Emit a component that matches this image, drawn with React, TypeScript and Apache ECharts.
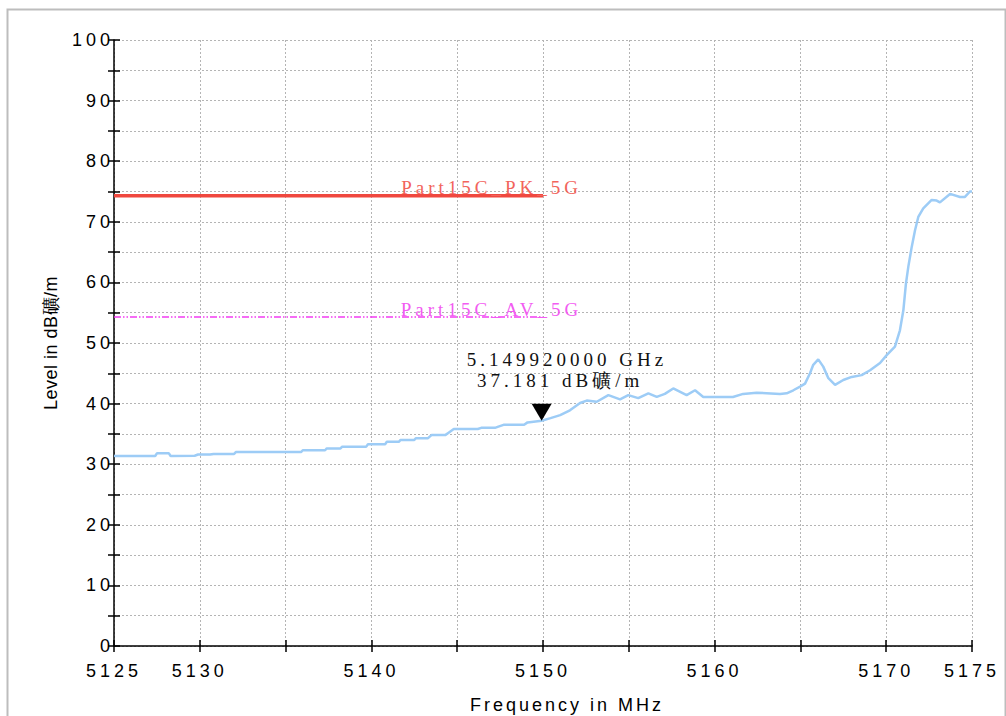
import React, { useEffect, useRef } from 'react';
import * as echarts from 'echarts';

const freqMHz = [
  5125, 5127.4, 5127.5, 5128.2, 5128.3, 5129.7, 5129.9, 5130.6, 5130.8, 5132.0,
  5132.1, 5135.9, 5136.0, 5137.3, 5137.4, 5138.2, 5138.3, 5139.7, 5139.8, 5140.8,
  5140.9, 5141.6, 5141.7, 5142.5, 5142.6, 5143.3, 5143.5, 5144.3, 5144.5, 5144.8,
  5146.2, 5146.4, 5147.2, 5147.4, 5147.7, 5148.9, 5149.1, 5149.92, 5150.44, 5151.0,
  5151.57, 5152.16, 5152.55, 5153.13, 5153.81, 5154.49, 5154.97, 5155.55, 5156.14, 5156.63,
  5157.1, 5157.59, 5158.37, 5158.86, 5159.34, 5160.0, 5161.07, 5161.66, 5162.45, 5163.81,
  5164.2, 5164.59, 5164.98, 5165.27, 5165.56, 5165.75, 5166.04, 5166.33, 5166.63, 5167.02,
  5167.5, 5167.99, 5168.57, 5169.06, 5169.64, 5170.03, 5170.51, 5170.8, 5171.0, 5171.15,
  5171.29, 5171.49, 5171.68, 5171.87, 5172.16, 5172.65, 5172.94, 5173.13, 5173.72, 5174.3,
  5174.59, 5174.88, 5175,
];

const levelDb = [
  31.35, 31.35, 31.8, 31.8, 31.35, 31.4, 31.6, 31.6, 31.7, 31.7,
  32.0, 32.0, 32.3, 32.3, 32.6, 32.6, 32.9, 32.9, 33.3, 33.3,
  33.7, 33.7, 34.0, 34.0, 34.3, 34.3, 34.8, 34.8, 35.2, 35.8,
  35.8, 36.0, 36.0, 36.2, 36.5, 36.5, 36.9, 37.18, 37.6, 38.1,
  38.9, 40.1, 40.5, 40.3, 41.4, 40.7, 41.4, 40.9, 41.7, 41.1,
  41.6, 42.5, 41.4, 42.2, 41.1, 41.1, 41.1, 41.6, 41.8, 41.6,
  41.7, 42.2, 42.8, 43.3, 45.0, 46.4, 47.3, 46.1, 44.2, 43.1,
  43.9, 44.4, 44.7, 45.5, 46.7, 48.0, 49.4, 52.1, 55.4, 59.8,
  62.6, 65.9, 68.6, 70.8, 72.2, 73.6, 73.5, 73.2, 74.6, 74.1,
  74.1, 75.0, 75.0,
];

const xTickLabels = [5125, 5130, 5140, 5150, 5160, 5170, 5175];
const limitFreq = [5125, 5150];
const pkLimit = 74.3;
const avLimit = 54.3;
const pkName = 'Part15C_PK_5G';
const avName = 'Part15C_AV_5G';
const markerFreq = 5149.92;
const markerLevel = 37.181;
const markerFreqText = '5.149920000 GHz';
const markerLevelText = '37.181 dB礦/m';

const SANS = 'Liberation Sans, Arial, sans-serif';
const SERIF = 'Liberation Serif, Times New Roman, serif';

export default function App() {
  const ref = useRef<HTMLDivElement>(null);

  useEffect(() => {
    const el = ref.current!;
    const chart = echarts.init(el, null, { renderer: 'svg' });

    const axisCommonX = {
      type: 'value' as const,
      min: 5125,
      max: 5175,
      interval: 5,
    };
    const axisCommonY = {
      type: 'value' as const,
      min: 0,
      max: 100,
      interval: 5,
    };

    const textLabel = (coord: number[], text: string, color: string) => ({
      coord,
      symbol: 'rect',
      symbolSize: 1,
      itemStyle: { color: 'rgba(0,0,0,0)' },
      label: {
        show: true,
        position: 'inside',
        formatter: text,
        fontFamily: SERIF,
        fontSize: 19,
        color,
      },
    });

    chart.setOption({
      animation: false,
      backgroundColor: '#ffffff',
      grid: {
        left: 114,
        right: 34,
        top: 40,
        bottom: 70,
        containLabel: false,
        outerBoundsMode: 'none',
      },
      graphic: [
        {
          type: 'rect',
          left: 5,
          top: 7,
          shape: { width: 998, height: 730 },
          style: { fill: 'none', stroke: '#bdbdbd', lineWidth: 2 },
          silent: true,
        },
      ],
      xAxis: [
        {
          ...axisCommonX,
          position: 'bottom',
          name: 'Frequency in MHz',
          nameLocation: 'middle',
          nameGap: 50,
          nameTextStyle: { fontFamily: SANS, fontSize: 18, color: '#000', padding: [0, 0, 0, 48] },
          axisLine: { show: true, onZero: false, lineStyle: { color: '#000', width: 1.5 } },
          axisTick: { show: true, inside: false, length: 6, lineStyle: { color: '#000', width: 1.5 } },
          axisLabel: {
            show: true,
            margin: 16,
            fontFamily: SANS,
            fontSize: 18,
            color: '#000',
            showMinLabel: true,
            showMaxLabel: true,
            formatter: (v: number) => (xTickLabels.includes(Math.round(v)) ? String(Math.round(v)) : ''),
          },
          splitLine: { show: true, lineStyle: { color: '#b4b4b4', type: [2, 2], width: 1 } },
        },
        {
          ...axisCommonX,
          position: 'bottom',
          axisLine: { show: false },
          axisTick: { show: true, inside: true, length: 6, lineStyle: { color: '#000', width: 1.5 } },
          axisLabel: { show: false },
          splitLine: { show: false },
        },
      ],
      yAxis: [
        {
          ...axisCommonY,
          position: 'left',
          name: 'Level in dB礦/m',
          nameLocation: 'middle',
          nameGap: 54,
          nameRotate: 90,
          nameTextStyle: { fontFamily: SANS, fontSize: 18, color: '#000' },
          axisLine: { show: true, onZero: false, lineStyle: { color: '#000', width: 1.5 } },
          axisTick: { show: true, inside: false, length: 6, lineStyle: { color: '#000', width: 1.5 } },
          axisLabel: {
            show: true,
            margin: 0,
            fontFamily: SANS,
            fontSize: 18,
            color: '#000',
            formatter: (v: number) => (Math.round(v) % 10 === 0 ? String(Math.round(v)) : ''),
          },
          splitLine: { show: true, lineStyle: { color: '#b4b4b4', type: [2, 2], width: 1 } },
        },
        {
          ...axisCommonY,
          position: 'left',
          axisLine: { show: false },
          axisTick: { show: true, inside: true, length: 6, lineStyle: { color: '#000', width: 1.5 } },
          axisLabel: { show: false },
          splitLine: { show: false },
        },
      ],
      series: [
        {
          name: 'Trace',
          type: 'line',
          xAxisIndex: 0,
          yAxisIndex: 0,
          data: freqMHz.map((f, i) => [f, levelDb[i]]),
          showSymbol: false,
          symbol: 'none',
          lineStyle: { color: '#9dccf6', width: 2.5 },
          z: 3,
          markPoint: {
            silent: true,
            data: [
              {
                coord: [markerFreq, markerLevel],
                symbol: 'triangle',
                symbolRotate: 180,
                symbolSize: [20, 17],
                symbolOffset: [0, -8.5],
                itemStyle: { color: '#000' },
                label: { show: false },
              },
              textLabel([5151.4, 47.3], markerFreqText, '#111'),
              textLabel([5151.0, 43.8], markerLevelText, '#111'),
            ],
          },
        },
        {
          name: pkName,
          type: 'line',
          data: limitFreq.map((f) => [f, pkLimit]),
          showSymbol: false,
          symbol: 'none',
          lineStyle: { color: '#f0483f', width: 3.5 },
          z: 4,
          markPoint: {
            silent: true,
            data: [textLabel([5147.0, pkLimit + 1.3], pkName, '#f2645c')],
          },
        },
        {
          name: avName,
          type: 'line',
          data: limitFreq.map((f) => [f, avLimit]),
          showSymbol: false,
          symbol: 'none',
          lineStyle: { color: '#f23cf2', width: 1.5, type: [7, 2, 1.5, 2, 1.5, 2] },
          z: 4,
          markPoint: {
            silent: true,
            data: [textLabel([5147.0, avLimit + 1.3], avName, '#f25cf2')],
          },
        },
      ],
    });

    const applySpacing = () => {
      el.querySelectorAll('text').forEach((t) => {
        const s = t.textContent || '';
        let ls = 4;
        if (/^\d+$/.test(s)) ls = 4;
        else if (s.startsWith('Frequency')) ls = 3;
        else if (s.startsWith('Level')) ls = 0.5;
        t.setAttribute('letter-spacing', String(ls));
      });
    };
    chart.on('finished', applySpacing);
    applySpacing();
    const timer = setTimeout(applySpacing, 60);

    return () => {
      clearTimeout(timer);
      chart.dispose();
    };
  }, []);

  return (
    <div
      ref={ref}
      style={{ position: 'fixed', left: 0, top: 0, width: 1006, height: 716, background: '#fff' }}
    />
  );
}
